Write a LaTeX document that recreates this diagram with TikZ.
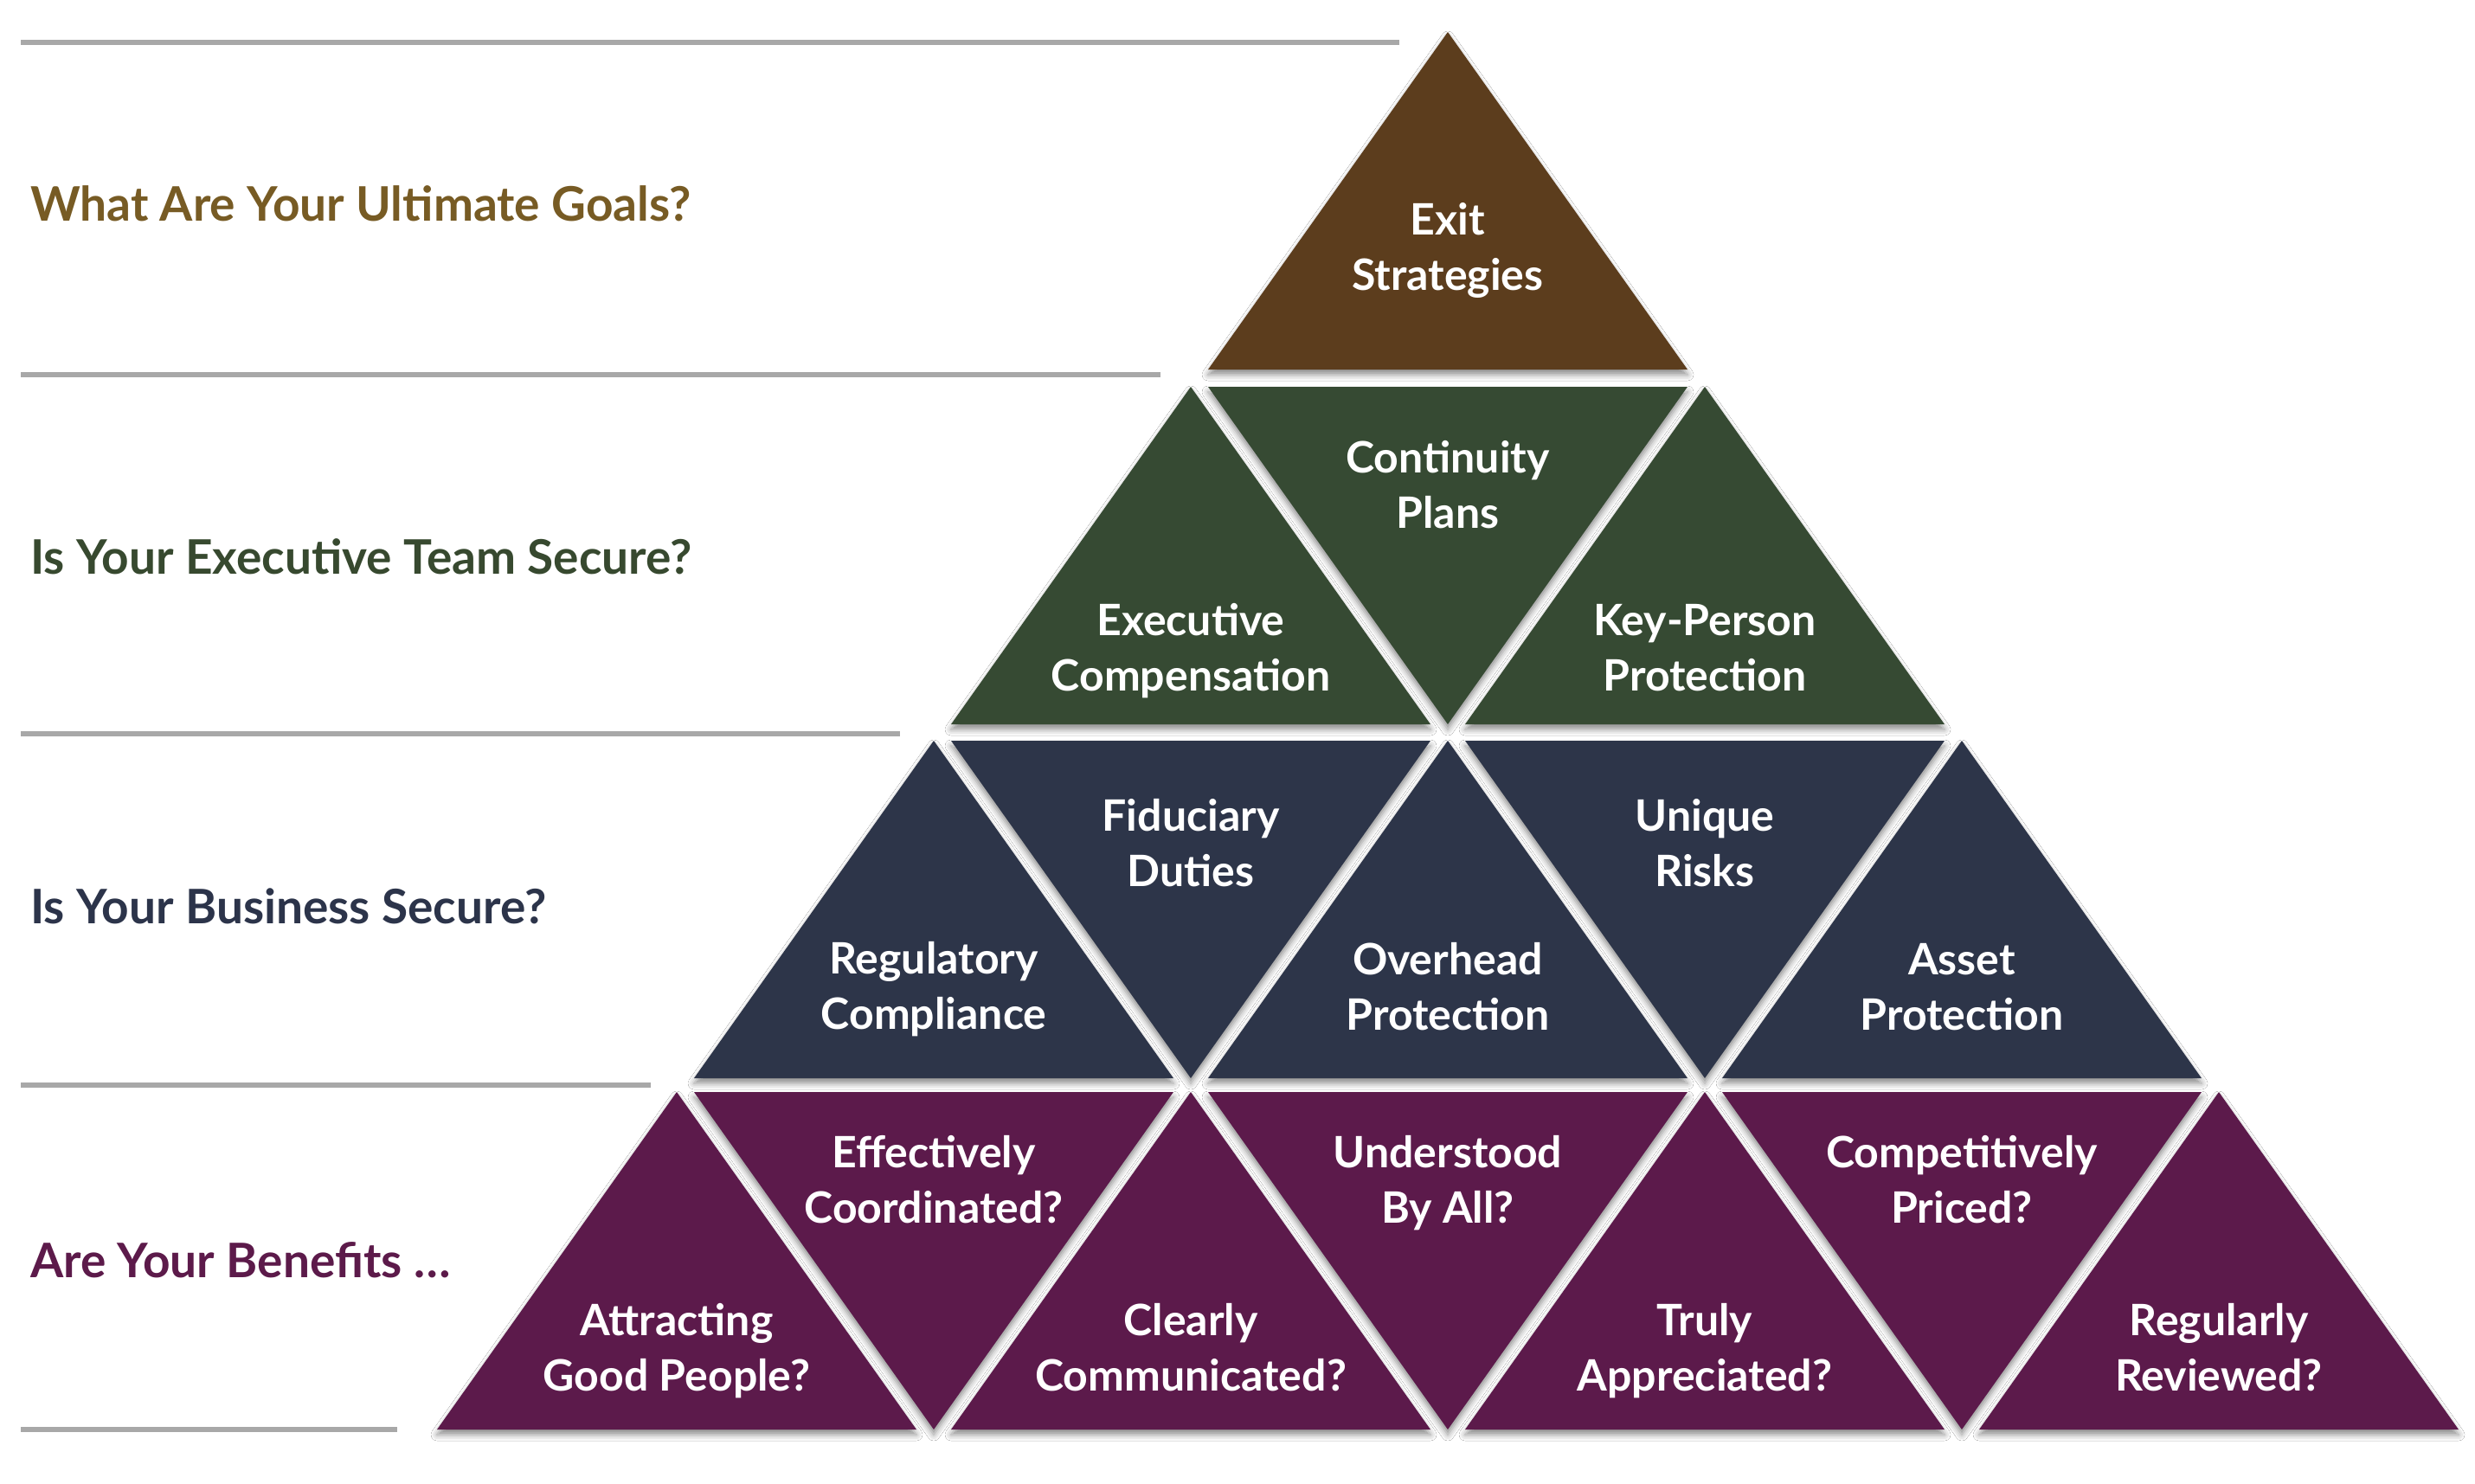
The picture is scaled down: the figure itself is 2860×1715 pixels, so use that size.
\documentclass[tikz,border=0pt]{standalone}
\usepackage{fontspec}
\setmainfont{Lato}
\usetikzlibrary{shadows.blur}
\definecolor{cBrown}{HTML}{5C3D1D}
\definecolor{cGreen}{HTML}{364A33}
\definecolor{cNavy}{HTML}{2D3549}
\definecolor{cPurple}{HTML}{5C1A4B}
\definecolor{qBrown}{HTML}{775B24}
\definecolor{qGreen}{HTML}{37492F}
\definecolor{qNavy}{HTML}{2C344A}
\definecolor{qPurple}{HTML}{5C1A4A}
\definecolor{ruleGray}{HTML}{A8A8A8}
\newcommand{\TwoLines}[2]{\begin{tabular}[t]{@{}c@{}}#1\\#2\end{tabular}}
\newcommand{\UpTri}[3]{\fill[tri,fill=#3] (#1,#2) -- (#1+277,#2+390) -- (#1-277,#2+390) -- cycle;}
\newcommand{\DnTri}[3]{\fill[tri,fill=#3] (#1-277,#2) -- (#1+277,#2) -- (#1,#2+390) -- cycle;}
\begin{document}
\begin{tikzpicture}[x=1pt,y=-1pt,
  tri/.style={draw=none, blur shadow={shadow xshift=0pt, shadow yshift=-6pt, shadow blur radius=7pt, shadow opacity=45}},
  rulebar/.style={draw=ruleGray, line width=6pt},
  tlabel/.style={text=white, font=\fontsize{50}{64}\selectfont\bfseries, anchor=base, inner sep=0pt},
  qlabel/.style={font=\fontsize{55}{64}\selectfont\bfseries, anchor=base west, inner sep=0pt},
]
\useasboundingbox (0,0) rectangle (2860,1715);
\fill[white] (0,0) rectangle (2860,1715);

% horizontal rules
\coordinate (r1a) at (24,49);   \coordinate (r1b) at (1617,49);
\coordinate (r2a) at (24,433);  \coordinate (r2b) at (1341,433);
\coordinate (r3a) at (24,848);  \coordinate (r3b) at (1040,848);
\coordinate (r4a) at (24,1254); \coordinate (r4b) at (752,1254);
\coordinate (r5a) at (24,1652); \coordinate (r5b) at (459,1652);
\draw[rulebar] (r1a) -- (r1b);
\draw[rulebar] (r2a) -- (r2b);
\draw[rulebar] (r3a) -- (r3b);
\draw[rulebar] (r4a) -- (r4b);
\draw[rulebar] (r5a) -- (r5b);

% row 1
\UpTri{1673}{37}{cBrown}
% row 2
\UpTri{1376}{447}{cGreen}
\DnTri{1673}{447}{cGreen}
\UpTri{1970}{447}{cGreen}
% row 3
\UpTri{1079}{856}{cNavy}
\DnTri{1376}{856}{cNavy}
\UpTri{1673}{856}{cNavy}
\DnTri{1970}{856}{cNavy}
\UpTri{2267}{856}{cNavy}
% row 4
\UpTri{782}{1262}{cPurple}
\DnTri{1079}{1262}{cPurple}
\UpTri{1376}{1262}{cPurple}
\DnTri{1673}{1262}{cPurple}
\UpTri{1970}{1262}{cPurple}
\DnTri{2267}{1262}{cPurple}
\UpTri{2564}{1262}{cPurple}

% triangle labels
\node[tlabel] (exit) at (1673,271.5) {\TwoLines{Exit}{Strategies}};
\node[tlabel] (cont) at (1673,546.5) {\TwoLines{Continuity}{Plans}};
\node[tlabel] (exec) at (1376,734) {\TwoLines{Executive}{Compensation}};
\node[tlabel] (keyp) at (1970,734) {\TwoLines{Key-Person}{Protection}};
\node[tlabel] (fidu) at (1376,960) {\TwoLines{Fiduciary}{Duties}};
\node[tlabel] (uniq) at (1970,960) {\TwoLines{Unique}{Risks}};
\node[tlabel] (regu) at (1079,1125) {\TwoLines{Regulatory}{Compliance}};
\node[tlabel] (over) at (1673,1126.5) {\TwoLines{Overhead}{Protection}};
\node[tlabel] (asse) at (2267,1126.5) {\TwoLines{Asset}{Protection}};
\node[tlabel] (effe) at (1079,1349.5) {\TwoLines{Effectively}{Coordinated?}};
\node[tlabel] (unde) at (1673,1349.5) {\TwoLines{Understood}{By All?}};
\node[tlabel] (comp) at (2267,1349.5) {\TwoLines{Competitively}{Priced?}};
\node[tlabel] (attr) at (782,1543.5) {\TwoLines{Attracting}{Good People?}};
\node[tlabel] (clea) at (1376,1543.5) {\TwoLines{Clearly}{Communicated?}};
\node[tlabel] (trul) at (1970,1543.5) {\TwoLines{Truly}{Appreciated?}};
\node[tlabel] (regl) at (2564,1543.5) {\TwoLines{Regularly}{Reviewed?}};

% row questions
\node[qlabel, text=qBrown] (q1) at (35,256) {What Are Your Ultimate Goals?};
\node[qlabel, text=qGreen] (q2) at (35,663) {Is Your Executive Team Secure?};
\node[qlabel, text=qNavy] (q3) at (35,1067) {Is Your Business Secure?};
\node[qlabel, text=qPurple] (q4) at (35,1476) {Are Your Benefits …};
\end{tikzpicture}
\end{document}
